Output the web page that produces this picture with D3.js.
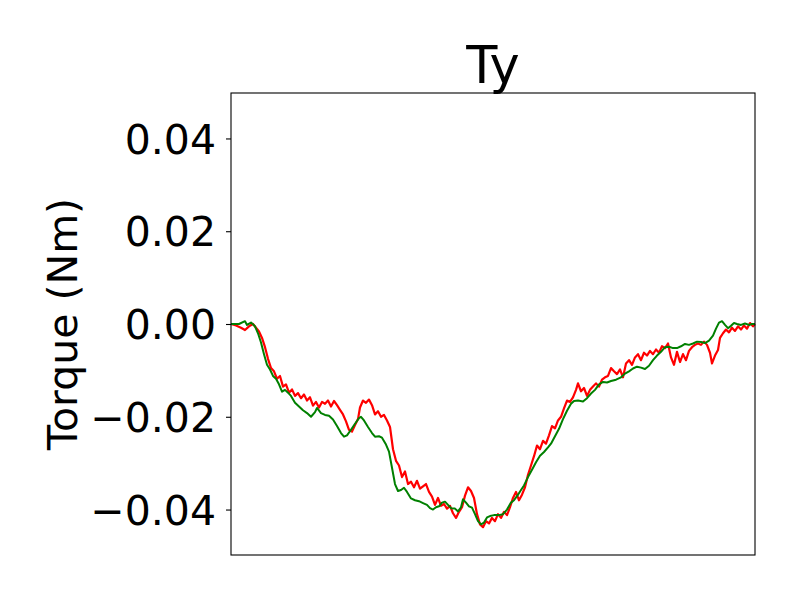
<!DOCTYPE html>
<html><head><meta charset="utf-8">
<script src="https://cdn.jsdelivr.net/npm/d3@7"></script>
<style>body{margin:0;background:#fff}svg{display:block}text{font-family:"DejaVu Sans",sans-serif}</style>
</head><body>
<script>
const title = "Ty";
const yLabel = "Torque (Nm)";
const yTicks = [-0.04, -0.02, 0.00, 0.02, 0.04];
const xDomain = [0, 524];
const yDomain = [-0.0498, 0.0498];

const redT = [0,5,10,14,18,22,25,28,31,34,37,40,43,46,49,52,55,58,61,64,67,70,73,76,79,82,85,88,91,94,97,100,103,106,109,112,115,118,121,124,127,129,132,135,138,141,144,147,150,153,156,159,162,165,168,171,174,177,180,183,186,189,192,195,198,201,204,207,210,213,216,219,222,225,228,231,234,237,240,243,246,249,252,255,258,261,264,267,270,273,276,279,282,285,288,291,294,297,300,303,306,309,312,315,318,321,324,327,330,333,336,339,342,345,347,350,353,356,359,362,365,368,371,374,377,380,383,386,389,392,395,398,401,404,407,410,413,416,419,422,425,428,431,434,437,440,443,446,449,452,455,458,461,464,467,470,473,476,479,481,484,487,489,492,495,498,501,504,507,510,513,516,519,522,524];
const redV = [0,-0.0003,-0.0008,-0.0013,-0.0005,0.0,-0.0008,-0.0016,-0.003,-0.005,-0.0075,-0.0095,-0.0102,-0.0118,-0.0112,-0.0135,-0.013,-0.0148,-0.0141,-0.0155,-0.0149,-0.016,-0.0152,-0.0165,-0.0158,-0.0176,-0.0168,-0.018,-0.0168,-0.0172,-0.0165,-0.0178,-0.0166,-0.0175,-0.0185,-0.0195,-0.021,-0.0228,-0.0232,-0.0218,-0.0205,-0.018,-0.0165,-0.017,-0.0163,-0.0175,-0.0195,-0.0188,-0.02,-0.0196,-0.0208,-0.0222,-0.027,-0.0295,-0.0305,-0.033,-0.0318,-0.0345,-0.034,-0.0352,-0.0338,-0.0355,-0.035,-0.0345,-0.0362,-0.0372,-0.039,-0.0375,-0.0392,-0.0388,-0.0398,-0.0392,-0.0408,-0.0418,-0.0405,-0.0395,-0.037,-0.0352,-0.036,-0.0375,-0.041,-0.0432,-0.0438,-0.0425,-0.043,-0.0418,-0.0425,-0.041,-0.0418,-0.0405,-0.0412,-0.0395,-0.0375,-0.0362,-0.038,-0.0368,-0.0352,-0.0325,-0.0305,-0.0285,-0.0262,-0.027,-0.0252,-0.0258,-0.024,-0.022,-0.0225,-0.0208,-0.02,-0.0182,-0.0165,-0.0168,-0.0158,-0.0142,-0.0128,-0.0145,-0.0138,-0.0155,-0.0142,-0.0135,-0.0128,-0.0135,-0.012,-0.0115,-0.0112,-0.0095,-0.0102,-0.0108,-0.0098,-0.0115,-0.0085,-0.0078,-0.0088,-0.0072,-0.0065,-0.0078,-0.0062,-0.0068,-0.0058,-0.0065,-0.0055,-0.0062,-0.0048,-0.0052,-0.0042,-0.0072,-0.0088,-0.006,-0.0082,-0.0065,-0.0078,-0.0058,-0.005,-0.0045,-0.0042,-0.0045,-0.0038,-0.0045,-0.0062,-0.0085,-0.0068,-0.0056,-0.003,-0.002,-0.0012,-0.0018,-0.0008,-0.0015,-0.0005,-0.0012,-0.0003,-0.001,0.0002,-0.0005,0.0];

const greenT = [0,8,14,16,20,24,27,30,33,36,39,42,45,48,51,54,57,60,64,68,72,76,80,84,86,90,94,98,102,106,110,113,116,120,124,128,130,133,137,141,144,148,151,155,158,161,164,167,170,173,176,180,184,188,192,196,199,202,205,208,211,214,217,220,224,227,230,232,235,238,241,244,247,250,253,256,259,263,268,272,276,280,283,287,290,293,297,301,305,309,313,317,320,324,328,332,336,340,343,347,352,356,360,364,368,372,376,380,385,390,394,398,402,406,410,414,418,422,426,430,434,438,442,446,450,454,458,462,466,470,474,478,482,485,488,491,494,497,500,503,506,510,514,518,521,524];
const greenV = [0,0.0,0.0006,-0.0002,0.0003,-0.0005,-0.002,-0.004,-0.0065,-0.0088,-0.0098,-0.0112,-0.0118,-0.013,-0.0146,-0.0142,-0.0148,-0.0155,-0.017,-0.0178,-0.0186,-0.0192,-0.02,-0.019,-0.0181,-0.0192,-0.0196,-0.0198,-0.0206,-0.022,-0.0235,-0.0243,-0.024,-0.0228,-0.0215,-0.0203,-0.02,-0.0208,-0.0222,-0.0235,-0.0243,-0.0242,-0.0245,-0.026,-0.0275,-0.031,-0.0345,-0.036,-0.0358,-0.0353,-0.0362,-0.0376,-0.038,-0.0382,-0.0386,-0.039,-0.0397,-0.04,-0.0395,-0.0393,-0.0385,-0.0383,-0.039,-0.0397,-0.0398,-0.0404,-0.0395,-0.0378,-0.0385,-0.0393,-0.0396,-0.041,-0.0425,-0.0432,-0.0428,-0.0417,-0.0414,-0.0412,-0.0412,-0.041,-0.04,-0.0385,-0.038,-0.0368,-0.0358,-0.0348,-0.033,-0.0314,-0.0298,-0.0284,-0.0276,-0.0266,-0.0258,-0.0242,-0.0226,-0.0205,-0.0187,-0.0172,-0.0166,-0.0165,-0.0167,-0.016,-0.015,-0.0142,-0.013,-0.0125,-0.0126,-0.0123,-0.012,-0.0115,-0.0107,-0.0102,-0.0096,-0.0092,-0.0094,-0.0097,-0.009,-0.0078,-0.0068,-0.006,-0.005,-0.0049,-0.0052,-0.0052,-0.0048,-0.0043,-0.0045,-0.0042,-0.0038,-0.0039,-0.0041,-0.0036,-0.0025,-0.001,0.0003,0.0006,-0.0002,-0.0009,-0.0004,0.0002,0.0,-0.0002,0.0001,-0.0002,0.0,0.0];

const W = 800, H = 600;
const m = {left: 231, right: 755, top: 93, bottom: 555};

const svg = d3.select("body").append("svg").attr("width", W).attr("height", H);
const x = d3.scaleLinear().domain(xDomain).range([m.left, m.right]);
const y = d3.scaleLinear().domain(yDomain).range([m.bottom, m.top]);

const line = d3.line().x(d => x(d[0])).y(d => y(d[1]));
const redData = redT.map((t, i) => [t, redV[i]]);
const greenData = greenT.map((t, i) => [t, greenV[i]]);

svg.append("path").datum(redData).attr("d", line)
  .attr("fill", "none").attr("stroke", "#ff0000").attr("stroke-width", 2.2).attr("stroke-linejoin", "round");
svg.append("path").datum(greenData).attr("d", line)
  .attr("fill", "none").attr("stroke", "#008000").attr("stroke-width", 2).attr("stroke-linejoin", "round");

// frame
svg.append("rect").attr("x", m.left).attr("y", m.top)
  .attr("width", m.right - m.left).attr("height", m.bottom - m.top)
  .attr("fill", "none").attr("stroke", "#000").attr("stroke-width", 1.1);

// y axis
const yAxis = d3.axisLeft(y).tickValues(yTicks).tickSize(5).tickPadding(10)
  .tickFormat(d => d3.format(".2f")(d).replace("-", "\u2212"));
const gy = svg.append("g").attr("transform", `translate(${m.left},0)`).call(yAxis);
gy.select(".domain").remove();
gy.selectAll(".tick line").attr("stroke", "#000").attr("stroke-width", 1.1);
gy.selectAll(".tick text").attr("font-size", 41).attr("fill", "#000")
  .attr("font-family", "DejaVu Sans").attr("dy", "0.36em");

svg.append("text").attr("x", (m.left + m.right) / 2).attr("y", 83)
  .attr("text-anchor", "middle").attr("font-size", 51).text(title);

svg.append("text").attr("transform", `translate(77,${(m.top + m.bottom) / 2}) rotate(-90)`)
  .attr("text-anchor", "middle").attr("font-size", 41).text(yLabel);
</script>
</body></html>
